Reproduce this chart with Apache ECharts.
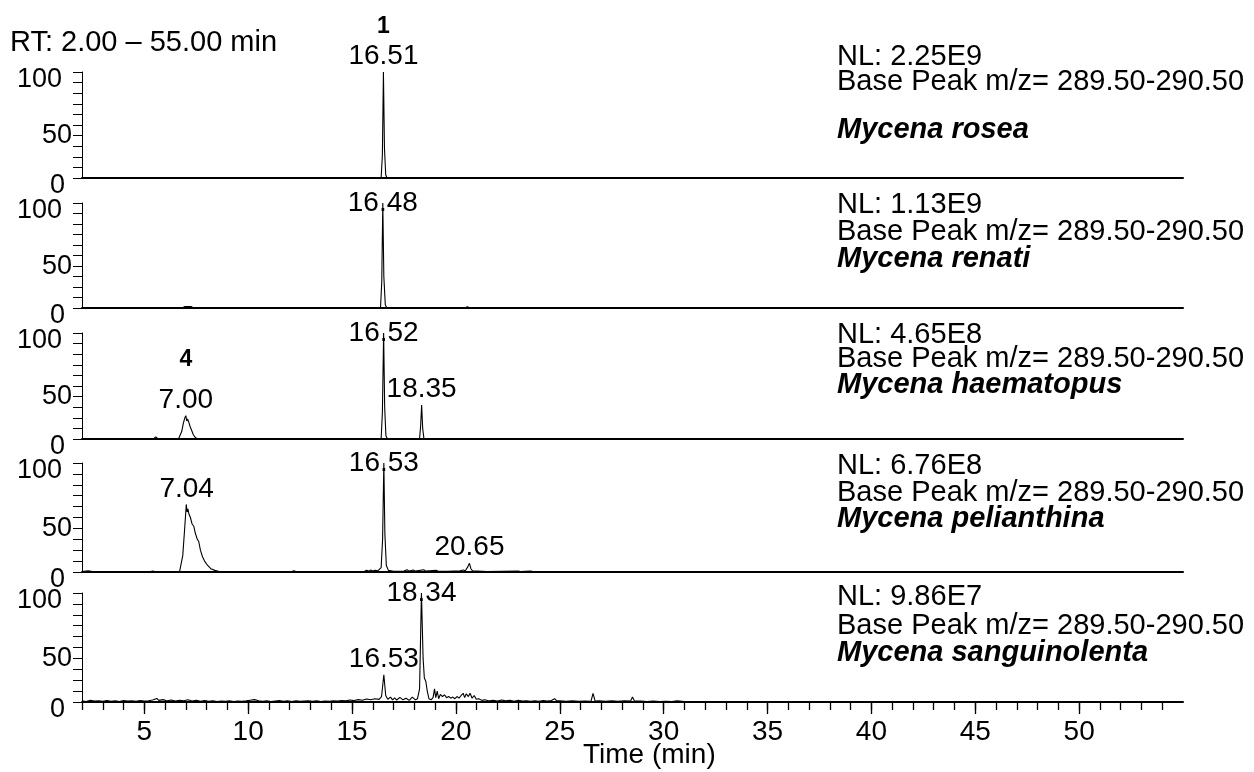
<!DOCTYPE html>
<html>
<head>
<meta charset="utf-8">
<script src="https://cdn.jsdelivr.net/npm/echarts@6/dist/echarts.min.js"></script>
<style>
html,body{margin:0;padding:0;background:#fff;}
#chart{width:1254px;height:772px;}
</style>
</head>
<body>
<div id="chart"></div>
<script>
// ---------------- DATA ----------------
const xMin = 2, xMax = 55;
const majorTicks = [5, 10, 15, 20, 25, 30, 35, 40, 45, 50];
const minorTicks = [2,3,4,5,6,7,8,9,10,11,12,13,14,15,16,17,18,19,20,21,22,23,24,25,26,27,28,29,30,31,32,33,34,35,36,37,38,39,40,41,42,43,44,45,46,47,48,49,50,51,52,53,54];
const yTicks = [0, 50, 100];

const speciesNames = ['Mycena rosea', 'Mycena renati', 'Mycena haematopus', 'Mycena pelianthina', 'Mycena sanguinolenta'];
const nlValues = ['NL: 2.25E9', 'NL: 1.13E9', 'NL: 4.65E8', 'NL: 6.76E8', 'NL: 9.86E7'];
const massFilter = 'Base Peak m/z= 289.50-290.50';
const rtRange = 'RT: 2.00 \u2013 55.00 min';
const xAxisTitle = 'Time (min)';

const traceRosea = [[2,0.3],[3.35,0.3],[3.42,1.3],[3.5,0.3],[16.40,0.3],[16.46,22],[16.51,100],[16.56,28],[16.62,3],[16.68,0.3],[55,0.3]];
const traceRenati = [[2,0.3],[6.85,0.3],[6.95,1.5],[7.25,1.5],[7.35,0.3],[16.37,0.3],[16.43,25],[16.48,100],[16.53,30],[16.6,3],[16.67,0.3],[20.45,0.3],[20.55,1.3],[20.65,0.3],[55,0.3]];
const traceHaematopus = [[2,0.3],[5.45,0.3],[5.55,2],[5.65,0.3],[6.65,0.3],[6.72,2],[6.8,7],[6.88,15],[6.95,20],[7.0,22],[7.04,17],[7.08,19],[7.14,16],[7.2,12],[7.28,8],[7.36,4],[7.45,1.5],[7.55,0.3],[15.78,0.3],[15.82,1.5],[15.86,0.3],[16.4,0.3],[16.46,25],[16.52,100],[16.57,30],[16.63,3],[16.7,0.3],[18.25,0.3],[18.3,12],[18.35,32],[18.4,10],[18.46,0.3],[55,0.3]];
const tracePelianthina = [[2,0.5],[2.3,1.2],[2.5,0.5],[5.3,0.5],[5.4,1],[5.5,0.5],[6.7,0.5],[6.78,2],[6.85,15],[6.95,42],[7.02,62],[7.06,55],[7.1,58],[7.15,53],[7.22,50],[7.3,44],[7.38,42],[7.45,36],[7.55,30],[7.62,28],[7.7,20],[7.8,14],[7.9,10],[8.05,6],[8.2,3],[8.4,1.5],[8.6,0.5],[12.1,0.5],[12.2,1.2],[12.3,0.5],[15.6,0.6],[15.7,1.5],[15.8,0.8],[15.9,1.8],[16.0,1.0],[16.1,1.6],[16.25,1.2],[16.4,4],[16.47,30],[16.53,100],[16.58,35],[16.65,6],[16.75,1.5],[17.0,0.6],[17.5,0.8],[17.65,2],[17.75,0.8],[17.95,1.8],[18.05,0.8],[18.45,2],[18.55,0.8],[19.05,1.6],[19.15,0.7],[19.6,0.6],[20.2,1.2],[20.35,1.8],[20.45,1.2],[20.55,4],[20.65,8],[20.72,3],[20.8,1.0],[21.5,0.5],[23.0,0.9],[23.1,0.5],[23.6,0.9],[23.7,0.5],[55,0.4]];
const traceSanguinolenta = [[2.0,1],[2.2,0.5],[2.4,1.5],[2.6,0.8],[2.8,1.2],[3.0,0.6],[3.2,1.4],[3.4,0.7],[3.6,1.1],[3.8,0.5],[4.0,1.3],[4.2,0.8],[4.4,1.0],[4.6,0.6],[4.8,1.4],[5.0,0.9],[5.2,1.2],[5.4,1.8],[5.6,3.2],[5.7,1.5],[5.9,2.2],[6.1,1.0],[6.3,1.9],[6.5,0.8],[6.7,1.6],[6.9,1.1],[7.1,2.0],[7.3,0.9],[7.5,1.5],[7.7,0.7],[7.9,1.3],[8.1,0.6],[8.3,1.1],[8.5,0.5],[8.7,0.9],[8.9,0.6],[9.1,1.0],[9.3,0.5],[9.5,0.8],[9.7,0.6],[9.9,1.0],[10.1,1.6],[10.3,2.2],[10.5,1.2],[10.7,0.7],[10.9,1.0],[11.1,0.5],[11.3,0.9],[11.5,1.3],[11.7,0.6],[11.9,1.0],[12.1,0.5],[12.3,1.1],[12.5,0.6],[12.7,0.9],[12.9,1.2],[13.1,0.6],[13.3,1.0],[13.5,0.5],[13.7,0.9],[13.9,0.7],[14.1,1.1],[14.3,0.8],[14.5,1.4],[14.7,1.0],[14.9,1.8],[15.1,1.3],[15.3,2.2],[15.5,1.6],[15.7,2.8],[15.9,2.0],[16.1,3.0],[16.3,2.4],[16.42,5],[16.53,25],[16.62,6],[16.72,2.5],[16.85,4.5],[16.95,2.0],[17.05,3.8],[17.15,1.8],[17.3,4.2],[17.45,2.0],[17.6,3.5],[17.75,1.5],[17.9,4.5],[18.05,2.0],[18.15,3.0],[18.25,12],[18.34,100],[18.42,40],[18.48,22],[18.55,19],[18.62,10],[18.7,3],[18.8,2],[18.9,4],[18.97,12],[19.03,4],[19.1,10],[19.17,3],[19.25,7],[19.35,5],[19.45,6.5],[19.55,4],[19.65,5],[19.75,3.5],[19.85,4.5],[19.95,3],[20.05,5],[20.15,3.5],[20.25,6],[20.35,8],[20.42,4],[20.5,7.5],[20.6,5],[20.68,8],[20.78,3.5],[20.88,6],[20.98,2.5],[21.1,3],[21.25,1.5],[21.4,2],[21.6,1],[21.8,1.5],[22.0,0.8],[22.2,1.8],[22.4,1.0],[22.6,1.5],[22.8,0.7],[23.0,1.6],[23.2,0.8],[23.4,1.2],[23.6,0.6],[23.8,1.0],[24.0,0.7],[24.2,1.3],[24.4,0.8],[24.6,1.4],[24.75,3],[24.85,1.0],[25.0,1.2],[25.3,0.7],[25.6,1.0],[25.9,0.6],[26.2,0.9],[26.5,0.6],[26.6,8],[26.7,0.8],[26.9,1.0],[27.2,0.6],[27.5,1.0],[27.8,0.7],[28.1,1.0],[28.4,0.8],[28.5,4.5],[28.6,0.8],[28.9,0.9],[29.2,0.5],[29.5,0.8],[29.8,0.5],[30.1,0.7],[30.4,0.5],[30.65,1],[31,0.4],[35,0.3],[40,0.3],[55,0.3]];

const peaksRosea = [[16.51, 100]];
const peaksRenati = [[16.48, 100]];
const peaksHaematopus = [[7.00, 22], [16.52, 100], [18.35, 32]];
const peaksPelianthina = [[7.04, 62], [16.53, 100], [20.65, 8]];
const peaksSanguinolenta = [[16.53, 25], [18.34, 100]];

// compound numbers: [panel index, retention time, peak height, id]
const compoundMarks = [[0, 16.51, 100, '1'], [2, 7.00, 22, '4']];

const traces = [traceRosea, traceRenati, traceHaematopus, tracePelianthina, traceSanguinolenta];
const peaks = [peaksRosea, peaksRenati, peaksHaematopus, peaksPelianthina, peaksSanguinolenta];

// ---------------- LAYOUT / STYLE ----------------
const FONT = "'Liberation Sans', Arial, Helvetica, sans-serif";
const gridTops = [72, 203, 333, 463, 593];
const gridHeights = [106, 105, 106, 109, 109];
const gridLeft = 82, gridRight = 71;
const textX = 837;
const textCenters = [[57, 82, 130], [205, 232, 259], [335, 359, 385], [466, 493, 519], [597, 626, 653]];
const compoundDistance = {0: 33, 2: 44};
const hiddenItem = {color: 'rgba(0,0,0,0)', opacity: 1};

const grids = [], xAxes = [], yAxes = [], series = [];
for (let i = 0; i < 5; i++) {
  grids.push({left: gridLeft, right: gridRight, top: gridTops[i], height: gridHeights[i]});
  const bottom = i === 4;
  xAxes.push({
    type: 'value', gridIndex: i, min: xMin, max: xMax,
    axisLine: {show: true, onZero: false, lineStyle: {color: '#000', width: 2}},
    axisTick: {show: bottom, customValues: majorTicks, length: 12, lineStyle: {color: '#000', width: 1.3}},
    axisLabel: {show: bottom, customValues: majorTicks, fontSize: 28, fontFamily: FONT, color: '#000', margin: 16},
    splitLine: {show: false}
  });
  yAxes.push({
    type: 'value', gridIndex: i, min: 0, max: 100, interval: 50,
    axisLine: {show: true, lineStyle: {color: '#000', width: 1}},
    axisTick: {show: true, length: 9, lineStyle: {color: '#000', width: 1}},
    minorTick: {show: true, splitNumber: 5, length: 9, lineStyle: {color: '#000', width: 1}},
    splitLine: {show: false}, minorSplitLine: {show: false},
    axisLabel: {
      margin: 10, color: '#000', fontSize: 27, fontFamily: FONT,
      formatter: v => v === 100 ? '{a|100}' : (v === 50 ? '{b|50}' : '{c|0}'),
      rich: {
        a: {fontSize: 27, fontFamily: FONT, color: '#000', padding: [16, 10, 0, 0]},
        b: {fontSize: 27, fontFamily: FONT, color: '#000', padding: [22, 0, 0, 0]},
        c: {fontSize: 27, fontFamily: FONT, color: '#000', padding: [16, 7, 0, 0]}
      }
    }
  });
  series.push({
    type: 'line', xAxisIndex: i, yAxisIndex: i, data: traces[i],
    showSymbol: false, symbol: 'none', clip: true,
    lineStyle: {color: '#000', width: 1.1}, animation: false, silent: true
  });
  series.push({
    type: 'scatter', xAxisIndex: i, yAxisIndex: i, symbolSize: 1,
    itemStyle: hiddenItem, animation: false, silent: true, clip: false,
    data: peaks[i].map(p => ({
      value: p,
      label: {
        show: true, position: 'top', distance: 1,
        offset: (i > 0 && p[1] >= 99) ? [0, 16] : [0, 0],
        formatter: () => p[0].toFixed(2),
        fontSize: 28, fontFamily: FONT, color: '#000', opacity: 1
      }
    }))
  });
}
// compound numbers
compoundMarks.forEach(c => {
  series.push({
    type: 'scatter', xAxisIndex: c[0], yAxisIndex: c[0], symbolSize: 1,
    itemStyle: hiddenItem, animation: false, silent: true, clip: false,
    data: [{value: [c[1], c[2]], label: {show: true, position: 'top', distance: compoundDistance[c[0]],
      formatter: c[3], fontSize: 23, fontWeight: 'bold', fontFamily: FONT, color: '#000', opacity: 1}}]
  });
});
// minor tick axis for bottom panel
xAxes.push({
  type: 'value', gridIndex: 4, min: xMin, max: xMax, position: 'bottom',
  axisLine: {show: false},
  axisTick: {show: true, customValues: minorTicks, length: 8, lineStyle: {color: '#000', width: 1.3}},
  axisLabel: {show: false},
  splitLine: {show: false}
});

const graphics = [];
graphics.push({type: 'text', x: 10, y: 43, style: {text: rtRange, font: '29px ' + FONT, fill: '#000', verticalAlign: 'middle'}});
graphics.push({type: 'text', x: 583, y: 755, style: {text: xAxisTitle, font: '28px ' + FONT, fill: '#000', verticalAlign: 'middle'}});
for (let i = 0; i < 5; i++) {
  const c = textCenters[i];
  graphics.push({type: 'text', x: textX, y: c[0], style: {text: nlValues[i], font: '29px ' + FONT, fill: '#000', verticalAlign: 'middle'}});
  graphics.push({type: 'text', x: textX, y: c[1], style: {text: massFilter, font: '29px ' + FONT, fill: '#000', verticalAlign: 'middle'}});
  graphics.push({type: 'text', x: textX, y: c[2], style: {text: speciesNames[i], font: 'italic bold 29px ' + FONT, fill: '#000', verticalAlign: 'middle'}});
}

const chart = echarts.init(document.getElementById('chart'), null, {renderer: 'canvas'});
chart.setOption({
  animation: false,
  backgroundColor: '#fff',
  grid: grids, xAxis: xAxes, yAxis: yAxes, series: series,
  graphic: graphics
});
</script>
</body>
</html>
